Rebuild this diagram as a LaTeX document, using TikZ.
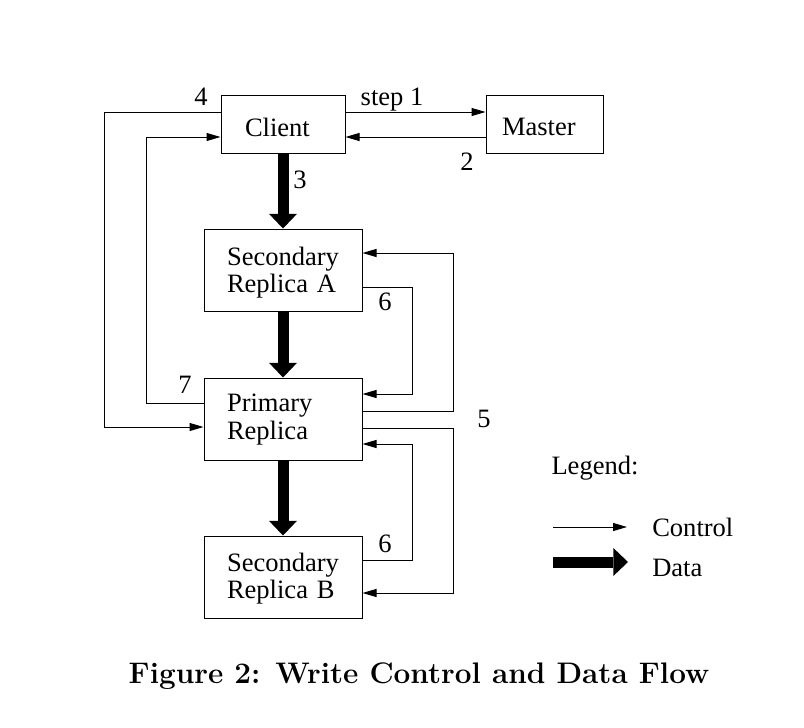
\documentclass[tikz,border=0pt]{standalone}
\usepackage{fontspec}
\newfontfamily\tms{Liberation Serif}
\usetikzlibrary{arrows.meta}
\begin{document}
\begin{tikzpicture}[x=0.75pt,y=-0.75pt,
  lbl/.style={font=\tms\fontsize{19.9}{20.3}\selectfont, inner sep=0pt},
  box/.style={draw, line width=0.75pt, font=\tms\fontsize{19.9}{20.3}\selectfont, inner sep=0pt, align=left},
  repl/.style={box, minimum width=118.5pt, minimum height=61.5pt, text width=84pt, text height=17.6pt},
  ctrl/.style={line width=0.75pt, -{Triangle[length=10.5pt 0, width=6pt 0]}},
  data/.style={line width=8.25pt, -{Triangle[length=11pt 0, width=21pt 0, line width=0pt]}}
]
\useasboundingbox (0,0) rectangle (804,728);
% boxes
\node[box, minimum width=93pt, minimum height=43.5pt, text width=57pt, text height=18.8pt] (client) at (283,124) {Client};
\node[box, minimum width=87.75pt, minimum height=43.5pt, text width=63.75pt, text height=17pt] (master) at (544.5,124) {Master};
\node[repl] (seca) at (283,270) {Secondary\\Replica A};
\node[repl, text height=14pt] (prim) at (283,419) {Primary\\Replica};
\node[repl, text height=16.2pt] (secb) at (283,577) {Secondary\\Replica B};
% control flow
\draw[ctrl] ([yshift=9pt]client.east) -- ([yshift=9pt]master.west);
\draw[ctrl] ([yshift=-9.75pt]master.west) -- ([yshift=-9.75pt]client.east);
\draw[ctrl] ([yshift=9pt]client.west) -- ++(-116,0) |- ([yshift=-6pt]prim.west);
\draw[ctrl] ([yshift=12pt]prim.west) -- ++(-57,0) |- ([yshift=-9.75pt]client.west);
\draw[ctrl] ([yshift=6pt]prim.east) -- ++(91,0) |- ([yshift=12.75pt]seca.east);
\draw[ctrl] ([yshift=-6.75pt]prim.east) -- ++(91,0) |- ([yshift=-12pt]secb.east);
\draw[ctrl] ([yshift=-12.75pt]seca.east) -- ++(50,0) |- ([yshift=18.75pt]prim.east);
\draw[ctrl] ([yshift=12.75pt]secb.east) -- ++(50,0) |- ([yshift=-18.75pt]prim.east);
% data flow
\draw[data] (client.south) -- (seca.north);
\draw[data] (seca.south) -- (prim.north);
\draw[data] (prim.south) -- (secb.north);
% labels
\node[lbl] (l1) at (392,100) {step 1};
\node[lbl] (l2) at (467,162) {2};
\node[lbl] (l3) at (300,180) {3};
\node[lbl] (l4) at (201,97) {4};
\node[lbl] (l7) at (185,385) {7};
\node[lbl] (l5) at (484,419) {5};
\node[lbl] (l6a) at (385,302) {6};
\node[lbl] (l6b) at (385,544) {6};
% legend
\node[lbl] (leg) at (595,468) {Legend:};
\coordinate (c1) at (553,527);
\coordinate (c2) at (627,527);
\coordinate (d1) at (553,562);
\coordinate (d2) at (628,562);
\draw[ctrl] (c1) -- (c2);
\draw[data] (d1) -- (d2);
\node[lbl, anchor=west] (lc) at (652,527) {Control};
\node[lbl, anchor=west] (ld) at (652,568) {Data};
% caption
\node[font=\fontsize{22.3}{26}\selectfont\bfseries, inner sep=0pt] (cap) at (419,676) {Figure 2: Write Control and Data Flow};
\end{tikzpicture}
\end{document}
